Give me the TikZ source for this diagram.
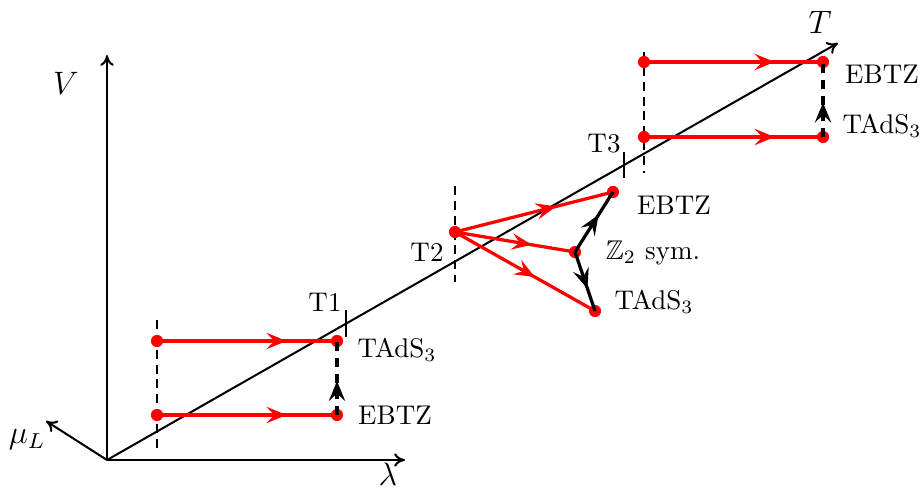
\documentclass[tikz,border=0pt]{standalone}
\usepackage{amssymb}
\usetikzlibrary{arrows.meta,decorations.markings}

\tikzset{
  axis/.style={line width=0.75pt,-{To[length=4pt,width=5pt]}},
  dot/.style={circle,fill=red,inner sep=0pt,minimum size=4.5pt},
  lbl/.style={inner sep=0pt,font=\normalsize},
  axlbl/.style={inner sep=0pt,font=\large},
  tick/.style={line width=0.4pt},
  guide/.style={line width=0.75pt,dash pattern=on 3.3pt off 2.2pt},
  midtip/.style={postaction={decorate},
    decoration={markings,mark=at position #1 with {\arrow{Stealth[length=7.4pt,width=6pt,inset=2.8pt]}}}},
  flow/.style={red,line width=1.2pt,midtip=#1},
  jump/.style={line width=1.2pt,dash pattern=on 3.5pt off 2.4pt,midtip=#1},
  shift/.style={line width=1.2pt,midtip=#1},
}

\begin{document}
\begin{tikzpicture}[x=0.37pt,y=-0.37pt]
  \useasboundingbox (0,0) rectangle (921,488);

  % axes
  \coordinate (O) at (107,460);
  \coordinate (Vend) at (107,55);
  \coordinate (Lend) at (405,460);
  \coordinate (Mend) at (46,421);
  \coordinate (Tend) at (838,43);
  \draw[axis] (O) -- (Vend);
  \draw[axis] (O) -- (Lend);
  \draw[axis] (O) -- (Mend);
  \draw[axis] (O) -- (Tend);
  \node[axlbl] (labV) at (66,83) {$V$};
  \node[axlbl] (labL) at (388,474) {$\lambda$};
  \node[axlbl] (labM) at (27,440) {$\mu_L$};
  \node[axlbl] (labT) at (820,22) {$T$};

  % T1 group
  \coordinate (t1a) at (346,310);
  \coordinate (t1b) at (346,337);
  \draw[tick] (t1a) -- (t1b);
  \node[lbl] (labT1) at (325,302) {T1};
  \coordinate (g1a) at (157,320);
  \coordinate (g1b) at (157,452);
  \draw[guide] (g1a) -- (g1b);
  \node[dot] (a1) at (157,341) {};
  \node[dot] (b1) at (337,341) {};
  \node[dot] (c1) at (157,415) {};
  \node[dot] (d1) at (337,415) {};
  \draw[flow=0.72] (a1.center) -- (b1.center);
  \draw[flow=0.72] (c1.center) -- (d1.center);
  \draw[jump=0.46] (d1.center) -- (b1.center);
  \node[lbl] (tads1) at (397,350) {TAdS$_3$};
  \node[lbl] (ebtz1) at (395,415) {EBTZ};

  % T2 group
  \coordinate (g2a) at (455,186);
  \coordinate (g2b) at (455,282);
  \draw[guide] (g2a) -- (g2b);
  \node[lbl] (labT2) at (427,252) {T2};
  \node[dot] (p2) at (455,232) {};
  \node[dot] (e2) at (613,192) {};
  \node[dot] (z2) at (575,252) {};
  \node[dot] (s2) at (595,311) {};
  \draw[flow=0.64] (p2.center) -- (e2.center);
  \draw[flow=0.64] (p2.center) -- (z2.center);
  \draw[flow=0.57] (p2.center) -- (s2.center);
  \draw[shift=0.62] (z2.center) -- (e2.center);
  \draw[shift=0.62] (z2.center) -- (s2.center);
  \node[lbl] (ebtz2) at (674,205) {EBTZ};
  \node[lbl] (zsym) at (653,253) {$\mathbb{Z}_2$ sym.};
  \node[lbl] (tads2) at (654,302) {TAdS$_3$};

  % T3 group
  \coordinate (t3a) at (624,152);
  \coordinate (t3b) at (624,178);
  \draw[tick] (t3a) -- (t3b);
  \node[lbl] (labT3) at (604,144) {T3};
  \coordinate (g3a) at (644,52);
  \coordinate (g3b) at (644,173);
  \draw[guide] (g3a) -- (g3b);
  \node[dot] (a3) at (644,62) {};
  \node[dot] (b3) at (823,62) {};
  \node[dot] (c3) at (644,137) {};
  \node[dot] (d3) at (823,137) {};
  \draw[flow=0.73] (a3.center) -- (b3.center);
  \draw[flow=0.73] (c3.center) -- (d3.center);
  \draw[jump=0.46] (d3.center) -- (b3.center);
  \node[lbl] (ebtz3) at (882,74) {EBTZ};
  \node[lbl] (tads3) at (882,126) {TAdS$_3$};
\end{tikzpicture}
\end{document}
